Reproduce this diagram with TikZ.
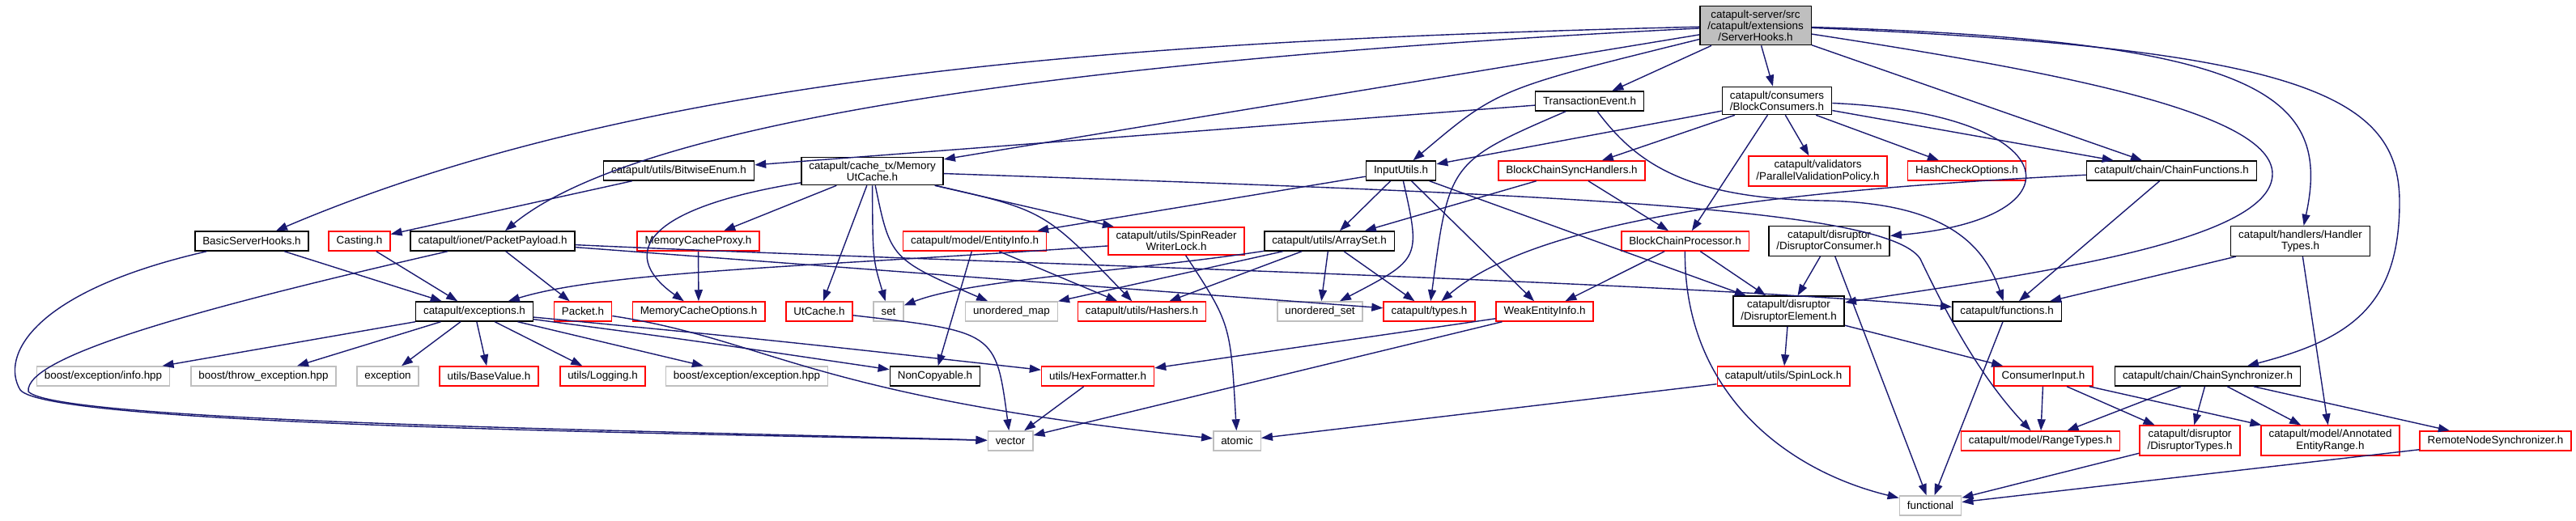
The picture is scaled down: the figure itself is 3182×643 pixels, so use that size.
\documentclass[tikz,border=0pt]{standalone}
\usepackage{fontspec}
\setmainfont{Liberation Sans}
\usetikzlibrary{arrows.meta, positioning}
\definecolor{edgeblue}{HTML}{191970}
\definecolor{boxgray}{HTML}{BFBFBF}
\tikzset{
  hdr/.style={rectangle, draw=black, fill=boxgray, line width=1.5pt, align=center, inner xsep=9.5pt, inner ysep=5pt, minimum height=24pt, font=\fontsize{13.4}{14.2}\selectfont},
  incl/.style={rectangle, draw=black, fill=white, line width=1.5pt, align=center, inner xsep=9.5pt, inner ysep=5pt, minimum height=24pt, font=\fontsize{13.4}{14.2}\selectfont},
  trunc/.style={rectangle, draw=red, fill=white, line width=1.5pt, align=center, inner xsep=9.5pt, inner ysep=5pt, minimum height=24pt, font=\fontsize{13.4}{14.2}\selectfont},
  sys/.style={rectangle, draw=boxgray, fill=white, line width=1.5pt, align=center, inner xsep=9.5pt, inner ysep=5pt, minimum height=24pt, font=\fontsize{13.4}{14.2}\selectfont},
  arrow/.style={-{Triangle[length=14pt, width=10pt]}, draw=edgeblue, line width=1.4pt},
}
\begin{document}
\begin{tikzpicture}[x=1pt, y=-1pt]

  \useasboundingbox (0,0) rectangle (3182,643);

  % ---- Row 0: the header ----
  \node (root) [hdr] at (2168.5,31.5) {catapult-server/src\\/catapult/extensions\\/ServerHooks.h};

  % ---- Row 1 ----
  \node (tev) [incl] at (1963.5,125) {TransactionEvent.h};
  \node (bcons) [incl] at (2195,124.5) {catapult/consumers\\/BlockConsumers.h};

  % ---- Row 2 ----
  \node (bwe) [incl] at (838.5,211) {catapult/utils/BitwiseEnum.h};
  \node (mutc) [incl] at (1077.5,211.5) {catapult/cache\_tx/Memory\\UtCache.h};
  \node (inpu) [incl] at (1730.5,211) {InputUtils.h};
  \node (bcsh) [trunc] at (1941.5,211) {BlockChainSyncHandlers.h};
  \node (pvp) [trunc] at (2245.5,211.5) {catapult/validators\\/ParallelValidationPolicy.h};
  \node (hco) [trunc] at (2429.5,211) {HashCheckOptions.h};
  \node (cfun) [incl] at (2682.5,211) {catapult/chain/ChainFunctions.h};

  % ---- Row 3 ----
  \node (bsh) [incl] at (311,298) {BasicServerHooks.h};
  \node (cast) [trunc] at (444,298) {Casting.h};
  \node (ppay) [incl] at (608.5,298) {catapult/ionet/PacketPayload.h};
  \node (mcp) [trunc] at (862.5,298) {MemoryCacheProxy.h};
  \node (einf) [trunc] at (1204,298) {catapult/model/EntityInfo.h};
  \node (srwl) [trunc] at (1453,298) {catapult/utils/SpinReader\\WriterLock.h};
  \node (aset) [incl] at (1642,298) {catapult/utils/ArraySet.h};
  \node (bcp) [trunc] at (2081.5,298) {BlockChainProcessor.h};
  \node (dcons) [incl] at (2259.5,298) {catapult/disruptor\\/DisruptorConsumer.h};
  \node (htyp) [incl] at (2841.5,298) {catapult/handlers/Handler\\Types.h};

  % ---- Row 4 ----
  \node (exc) [incl] at (586,385) {catapult/exceptions.h};
  \node (pkt) [trunc] at (720,385) {Packet.h};
  \node (mco) [trunc] at (863,385) {MemoryCacheOptions.h};
  \node (utc) [trunc] at (1012,385) {UtCache.h};
  \node (stdset) [sys] at (1097.5,385) {set};
  \node (umap) [sys] at (1249.5,385) {unordered\_map};
  \node (hash) [trunc] at (1410.5,385) {catapult/utils/Hashers.h};
  \node (uset) [sys] at (1630.5,385) {unordered\_set};
  \node (typ) [trunc] at (1765.5,385) {catapult/types.h};
  \node (wei) [trunc] at (1908,385) {WeakEntityInfo.h};
  \node (delem) [incl] at (2209.5,384.5) {catapult/disruptor\\/DisruptorElement.h};
  \node (func) [incl] at (2479,385) {catapult/functions.h};

  % ---- Row 5 ----
  \node (binfo) [sys] at (127.5,465) {boost/exception/info.hpp};
  \node (bthrow) [sys] at (325.5,465) {boost/throw\_exception.hpp};
  \node (stdexc) [sys] at (479,465) {exception};
  \node (bval) [trunc] at (604,465) {utils/BaseValue.h};
  \node (logg) [trunc] at (744.5,465) {utils/Logging.h};
  \node (bexc) [sys] at (922.5,465) {boost/exception/exception.hpp};
  \node (ncop) [incl] at (1155,465) {NonCopyable.h};
  \node (hexf) [trunc] at (1356,465) {utils/HexFormatter.h};
  \node (slock) [trunc] at (2203,465) {catapult/utils/SpinLock.h};
  \node (cinp) [trunc] at (2524,465) {ConsumerInput.h};
  \node (csync) [incl] at (2727,465) {catapult/chain/ChainSynchronizer.h};

  % ---- Row 6 ----
  \node (vec) [sys] at (1248,545) {vector};
  \node (atom) [sys] at (1528,545) {atomic};
  \node (rtyp) [trunc] at (2520.5,545) {catapult/model/RangeTypes.h};
  \node (dtyp) [trunc] at (2705,544.5) {catapult/disruptor\\/DisruptorTypes.h};
  \node (aer) [trunc] at (2878.5,544.5) {catapult/model/Annotated\\EntityRange.h};
  \node (rns) [trunc] at (3082.5,545) {RemoteNodeSynchronizer.h};

  % ---- Row 7 ----
  \node (fnl) [sys] at (2384.5,625) {functional};

  % ---- Arrows from the header ----
  \draw [arrow] (root) .. controls (1400,50) and (800,90) .. (bsh);
  \draw [arrow] (root) .. controls (1400,70) and (800,140) .. (ppay);
  \draw [arrow] (root) -- (mutc);
  \draw [arrow] (root) .. controls (1850,110) .. (inpu);
  \draw [arrow] (root) -- (tev);
  \draw [arrow] (root) -- (bcons);
  \draw [arrow] (root) -- (cfun);
  \draw [arrow] (root) .. controls (2550,90) and (2807,140) .. (2807,215) .. controls (2807,300) and (2500,340) .. (delem);
  \draw [arrow] (root) .. controls (2800,50) and (2880,120) .. (htyp);
  \draw [arrow] (root) .. controls (2850,60) and (2964,120) .. (2964,250) .. controls (2964,380) and (2900,420) .. (csync);

  % ---- Row 1 arrows ----
  \draw [arrow] (tev) -- (bwe);
  \draw [arrow] (tev) .. controls (1790,200) .. (typ);
  \draw [arrow] (tev) .. controls (2020,200) and (2080,245) .. (2250,248) .. controls (2400,250) and (2450,300) .. (func);
  \draw [arrow] (bcons) -- (inpu);
  \draw [arrow] (bcons) -- (bcsh);
  \draw [arrow] (bcons) -- (bcp);
  \draw [arrow] (bcons) -- (pvp);
  \draw [arrow] (bcons) -- (hco);
  \draw [arrow] (bcons) -- (cfun);
  \draw [arrow] (bcons) .. controls (2550,140) and (2580,270) .. (dcons);

  % ---- Row 2 arrows ----
  \draw [arrow] (bwe) -- (cast);
  \draw [arrow] (mutc) -- (mcp);
  \draw [arrow] (mutc) .. controls (780,260) and (770,320) .. (mco);
  \draw [arrow] (mutc) -- (utc);
  \draw [arrow] (mutc) .. controls (1078,320) .. (stdset);
  \draw [arrow] (mutc) .. controls (1100,320) .. (umap);
  \draw [arrow] (mutc) .. controls (1290,260) .. (hash);
  \draw [arrow] (mutc) -- (srwl);
  \draw [arrow] (mutc) .. controls (1900,240) and (2330,255) .. (2372,320) .. controls (2410,400) and (2450,470) .. (rtyp);
  \draw [arrow] (inpu) -- (einf);
  \draw [arrow] (inpu) -- (aset);
  \draw [arrow] (inpu) .. controls (1755,320) .. (uset);
  \draw [arrow] (inpu) -- (wei);
  \draw [arrow] (inpu) -- (delem);
  \draw [arrow] (bcsh) -- (aset);
  \draw [arrow] (bcsh) -- (bcp);
  \draw [arrow] (cfun) .. controls (2200,235) and (1900,270) .. (typ);
  \draw [arrow] (cfun) -- (func);

  % ---- Row 3 arrows ----
  \draw [arrow] (bsh) -- (exc);
  \draw [arrow] (bsh) .. controls (40,360) and (0,440) .. (25,482) .. controls (60,525) and (800,535) .. (vec);
  \draw [arrow] (cast) -- (exc);
  \draw [arrow] (ppay) -- (pkt);
  \draw [arrow] (ppay) .. controls (250,380) and (30,440) .. (35,484) .. controls (70,522) and (800,532) .. (vec);
  \draw [arrow] (ppay) -- (typ);
  \draw [arrow] (ppay) .. controls (1200,325) and (2000,345) .. (func);
  \draw [arrow] (mcp) -- (mco);
  \draw [arrow] (einf) -- (hash);
  \draw [arrow] (einf) -- (ncop);
  \draw [arrow] (srwl) .. controls (1000,330) and (750,335) .. (exc);
  \draw [arrow] (srwl) .. controls (1520,400) .. (atom);
  \draw [arrow] (aset) .. controls (1400,335) and (1200,345) .. (stdset);
  \draw [arrow] (aset) -- (umap);
  \draw [arrow] (aset) -- (hash);
  \draw [arrow] (aset) -- (uset);
  \draw [arrow] (aset) -- (typ);
  \draw [arrow] (bcp) -- (wei);
  \draw [arrow] (bcp) -- (delem);
  \draw [arrow] (bcp) .. controls (2080,480) and (2200,580) .. (fnl);
  \draw [arrow] (dcons) -- (delem);
  \draw [arrow] (dcons) -- (fnl);
  \draw [arrow] (htyp) -- (func);
  \draw [arrow] (htyp) -- (aer);

  % ---- Row 4 arrows ----
  \draw [arrow] (exc) -- (binfo);
  \draw [arrow] (exc) -- (bthrow);
  \draw [arrow] (exc) -- (stdexc);
  \draw [arrow] (exc) -- (bval);
  \draw [arrow] (exc) -- (logg);
  \draw [arrow] (exc) -- (bexc);
  \draw [arrow] (exc) .. controls (850,420) .. (ncop);
  \draw [arrow] (exc) .. controls (950,420) .. (hexf);
  \draw [arrow] (pkt) .. controls (950,420) and (1000,490) .. (atom);
  \draw [arrow] (utc) .. controls (1230,410) .. (vec);
  \draw [arrow] (wei) -- (hexf);
  \draw [arrow] (wei) -- (vec);
  \draw [arrow] (delem) -- (slock);
  \draw [arrow] (delem) -- (cinp);
  \draw [arrow] (func) -- (fnl);

  % ---- Row 5 arrows ----
  \draw [arrow] (hexf) -- (vec);
  \draw [arrow] (slock) -- (atom);
  \draw [arrow] (cinp) -- (rtyp);
  \draw [arrow] (cinp) -- (dtyp);
  \draw [arrow] (cinp) -- (aer);
  \draw [arrow] (csync) -- (rtyp);
  \draw [arrow] (csync) -- (dtyp);
  \draw [arrow] (csync) -- (aer);
  \draw [arrow] (csync) -- (rns);

  % ---- Row 6 arrows ----
  \draw [arrow] (dtyp) -- (fnl);
  \draw [arrow] (rns) -- (fnl);

\end{tikzpicture}
\end{document}
